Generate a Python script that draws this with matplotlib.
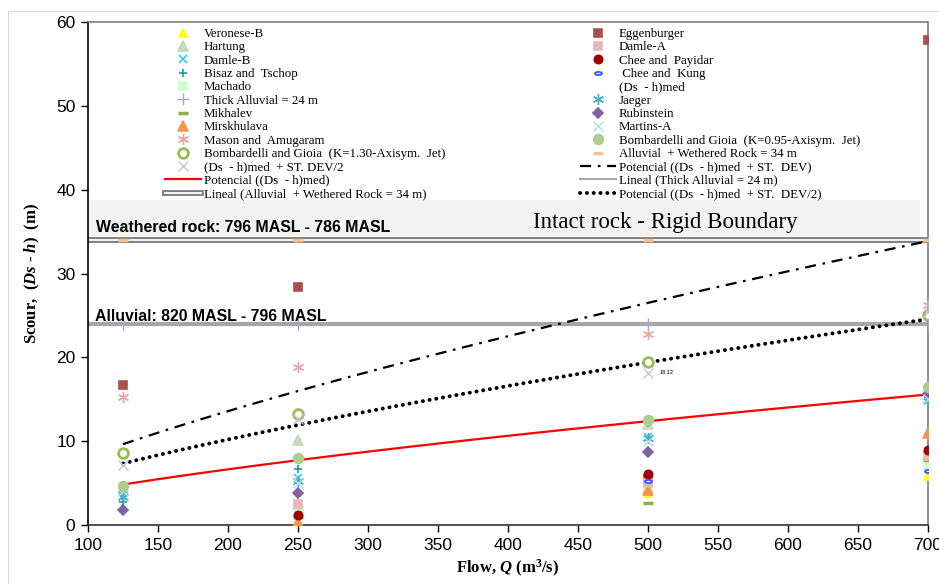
import numpy as np
import matplotlib
matplotlib.use('Agg')
import matplotlib.pyplot as plt
from matplotlib.patches import Rectangle
from matplotlib.lines import Line2D
from matplotlib.path import Path
from matplotlib.transforms import Affine2D

nan = np.nan

# caudales (m3/s)
flow = [125, 250, 500, 700]

# socavacion (Ds - h) por metodo (m)
veronese_b = [nan, 0.2, 3.8, 5.8]
hartung = [4.4, 10.1, 12.0, 16.2]
damle_b = [3.5, 5.6, 10.5, 15.0]
bisaz = [2.8, 6.7, 12.2, 15.3]
machado = [nan, 1.6, 4.5, 7.2]
thick_alluvial = [24, 24, 24, 24]
mikhalev = [nan, 1.0, 2.6, 7.8]
mirskhulava = [nan, 0.4, 4.2, 11.0]
mason = [15.3, 18.8, 22.8, 26.3]
bomb_130 = [8.6, 13.3, 19.4, 25.0]
med_sd2 = [7.2, 12.6, 18.1, 25.4]
eggenburger = [16.7, 28.4, 5.5, 57.8]
damle_a = [nan, 2.5, 5.0, 8.2]
chee_payidar = [nan, 1.2, 6.1, 9.0]
chee_kung = [nan, nan, 5.3, 6.5]
med = [4.8, 7.8, 12.4, 15.5]
jaeger = [3.3, 5.3, 10.4, 14.8]
rubinstein = [1.8, 3.8, 8.7, 15.6]
martins_a = [4.0, 5.0, 10.0, 15.0]
bomb_095 = [4.7, 8.0, 12.5, 16.5]
alluvial_wr = [34, 34, 34, 34]
med_sd = [9.6, 16.2, 26.0, 34.2]

plt.rcParams['font.family'] = ['Liberation Serif', 'DejaVu Sans']
plt.rcParams['mathtext.fontset'] = 'custom'
plt.rcParams['mathtext.it'] = 'Liberation Serif:italic:bold'
plt.rcParams['mathtext.rm'] = 'Liberation Serif:bold'

fig = plt.figure(figsize=(9.39, 5.84), dpi=100)
ax = fig.add_axes([88 / 939, 59 / 584, 840 / 939, 503 / 584])

# borde del area del grafico
fig.add_artist(Line2D([8 / 939, 1], [1 - 11 / 584] * 2, color='#D9D9D9', lw=0.8))
fig.add_artist(Line2D([8 / 939] * 2, [0, 1 - 11 / 584], color='#D9D9D9', lw=0.8))


def power_fit(x, y):
    b, loga = np.polyfit(np.log(x), np.log(y), 1)
    return np.exp(loga), b


qq = np.linspace(min(flow), max(flow), 200)
xl = np.array([100, 700])

# lineas horizontales (tendencias lineales)
m1, c1 = np.polyfit(flow, alluvial_wr, 1)
lin34a, = ax.plot(xl, m1 * xl + c1, color='#7F7F7F', lw=4.2, zorder=2)
lin34b, = ax.plot(xl, m1 * xl + c1, color='white', lw=1.3, zorder=2)
m2, c2 = np.polyfit(flow, thick_alluvial, 1)
ax.plot(xl, m2 * xl + c2, color='#A6A6A6', lw=3, zorder=2)
lin24 = Line2D([], [], color='#A6A6A6', lw=1.5)

# banda gris con textos
ax.add_patch(Rectangle((100, 34.45), 594, 4.3, facecolor='#F2F2F2', edgecolor='none', zorder=1))

a, b = power_fit(flow, med)
pot_med, = ax.plot(qq, a * qq ** b, color='#FF0000', lw=1.6, zorder=3)
a, b = power_fit(flow, med_sd)
pot_sd, = ax.plot(qq, a * qq ** b, color='black', lw=1.6, ls=(0, (5, 3, 1.2, 3)), zorder=3)
a, b = power_fit(flow, med_sd2)
pot_sd2, = ax.plot(qq, a * qq ** b, color='black', lw=2.8, ls=(0, (0.05, 1.7)),
                   dash_capstyle='round', zorder=3)

asterisk = (6, 2, 0)
oval = Path.unit_circle().transformed(Affine2D().scale(1, 0.45))


def sc(y, label, marker, color, ms=6, **kw):
    kw.setdefault('mec', color)
    kw.setdefault('mew', 1.2)
    h, = ax.plot(flow, y, linestyle='none', marker=marker, color=color, ms=ms,
                 label=label, zorder=4, **kw)
    return h


h_ver = sc(veronese_b, 'Veronese-B', '^', '#FFFF00')
h_har = sc(hartung, 'Hartung', '^', '#C6D9B8', ms=7)
h_dab = sc(damle_b, 'Damle-B', 'x', '#33CCFF')
h_bis = sc(bisaz, 'Bisaz and  Tschop', '+', '#1F9A9A')
h_mac = sc(machado, 'Machado', 's', '#CCFFCC')
h_thk = sc(thick_alluvial, 'Thick Alluvial = 24 m', '+', '#B3A2C7', ms=8, mew=1)
h_mik = sc(mikhalev, 'Mikhalev', '_', '#8FAF4F', ms=7, mew=2.5)
h_mir = sc(mirskhulava, 'Mirskhulava', '^', '#F79646', ms=7)
h_mas = sc(mason, 'Mason and  Amugaram', asterisk, '#E6A8A8', ms=8, mew=1)
h_b13 = sc(bomb_130, 'Bombardelli and Gioia  (K=1.30-Axisym.  Jet)', 'o', '#9BBB59', ms=7,
           mfc='white', mew=2)
h_sd2 = sc(med_sd2, '(Ds  - h)med  + ST. DEV/2', 'x', '#CCC1DA', ms=7, mew=1)
h_egg = sc(eggenburger, 'Eggenburger', 's', '#A9504E')
h_daa = sc(damle_a, 'Damle-A', 's', '#E6B9B8')
h_chp = sc(chee_payidar, 'Chee and  Payidar', 'o', '#A00000')
h_chk = sc(chee_kung, ' Chee and  Kung', oval, '#3355FF', ms=5, mfc='white', mew=1.3)
h_med, = ax.plot(flow, med, linestyle='none', marker='none', label='(Ds  - h)med')
h_jae = sc(jaeger, 'Jaeger', asterisk, '#4BACC6', ms=8, mew=1)
h_rub = sc(rubinstein, 'Rubinstein', 'D', '#8064A2', ms=5.5)
h_mar = sc(martins_a, 'Martins-A', 'x', '#B7DEE8', ms=7, mew=1)
h_b95 = sc(bomb_095, 'Bombardelli and Gioia  (K=0.95-Axisym.  Jet)', 'o', '#B0CC8C', ms=7)
h_awr = sc(alluvial_wr, 'Alluvial  + Wethered Rock = 34 m', '_', '#FAC090', ms=7, mew=2.5)

ax.text(106, 35.5, 'Weathered rock: 796 MASL - 786 MASL', fontfamily='Liberation Sans',
        fontweight='bold', fontsize=11.4, va='center', zorder=5)
ax.text(418, 36.1, 'Intact rock - Rigid Boundary', fontsize=16.5, va='center', zorder=5)
ax.text(105, 24.9, 'Alluvial: 820 MASL - 796 MASL', fontfamily='Liberation Sans',
        fontweight='bold', fontsize=11.4, va='center', zorder=5)
ax.text(508, 18.2, '18.12', fontsize=4, fontfamily='Liberation Sans', va='center', zorder=5)

left_h = [h_ver, h_har, h_dab, h_bis, h_mac, h_thk, h_mik, h_mir, h_mas, h_b13, h_sd2,
          pot_med, (lin34a, lin34b)]
left_l = [h.get_label() for h in left_h[:11]] + [
    'Potencial ((Ds  - h)med)', 'Lineal (Alluvial  + Wethered Rock = 34 m)']
right_h = [h_egg, h_daa, h_chp, h_chk, h_med, h_jae, h_rub, h_mar, h_b95, h_awr,
           pot_sd, lin24, pot_sd2]
right_l = [h.get_label() for h in right_h[:10]] + [
    'Potencial ((Ds  - h)med  + ST.  DEV)', 'Lineal (Thick Alluvial = 24 m)',
    'Potencial ((Ds  - h)med  + ST.  DEV/2)']

leg_kw = dict(loc='upper left', bbox_transform=fig.transFigure, frameon=False,
              fontsize=9.3, labelspacing=0.1, handlelength=2.8, handletextpad=0.2,
              borderaxespad=0, borderpad=0, numpoints=1)
leg1 = ax.legend(left_h, left_l, bbox_to_anchor=(165 / 939, 1 - 28 / 584), **leg_kw)
ax.add_artist(leg1)
ax.legend(right_h, right_l, bbox_to_anchor=(580 / 939, 1 - 28 / 584), **leg_kw)

ax.set_xlim(100, 700)
ax.set_ylim(0, 60)
ax.set_xticks(np.arange(100, 701, 50))
ax.set_yticks(np.arange(0, 61, 10))
ax.tick_params(direction='out', length=5, width=1, labelsize=12.5, pad=4)
for lab in ax.get_xticklabels() + ax.get_yticklabels():
    lab.set_fontfamily('Liberation Sans')

ax.spines['left'].set_color('black')
ax.spines['bottom'].set_color('#333333')
for s in ['top', 'right']:
    ax.spines[s].set_color('#7F7F7F')
for s in ax.spines.values():
    s.set_linewidth(1.2)

ax.set_ylabel(r'Scour,  ($Ds$ - $h$)  (m)', fontsize=12, fontweight='bold', labelpad=10)
ax.set_xlabel(r'Flow, $Q$ (m$^3$/s)', fontsize=12, fontweight='bold', labelpad=4)

fig.savefig('out.png', dpi=100)
